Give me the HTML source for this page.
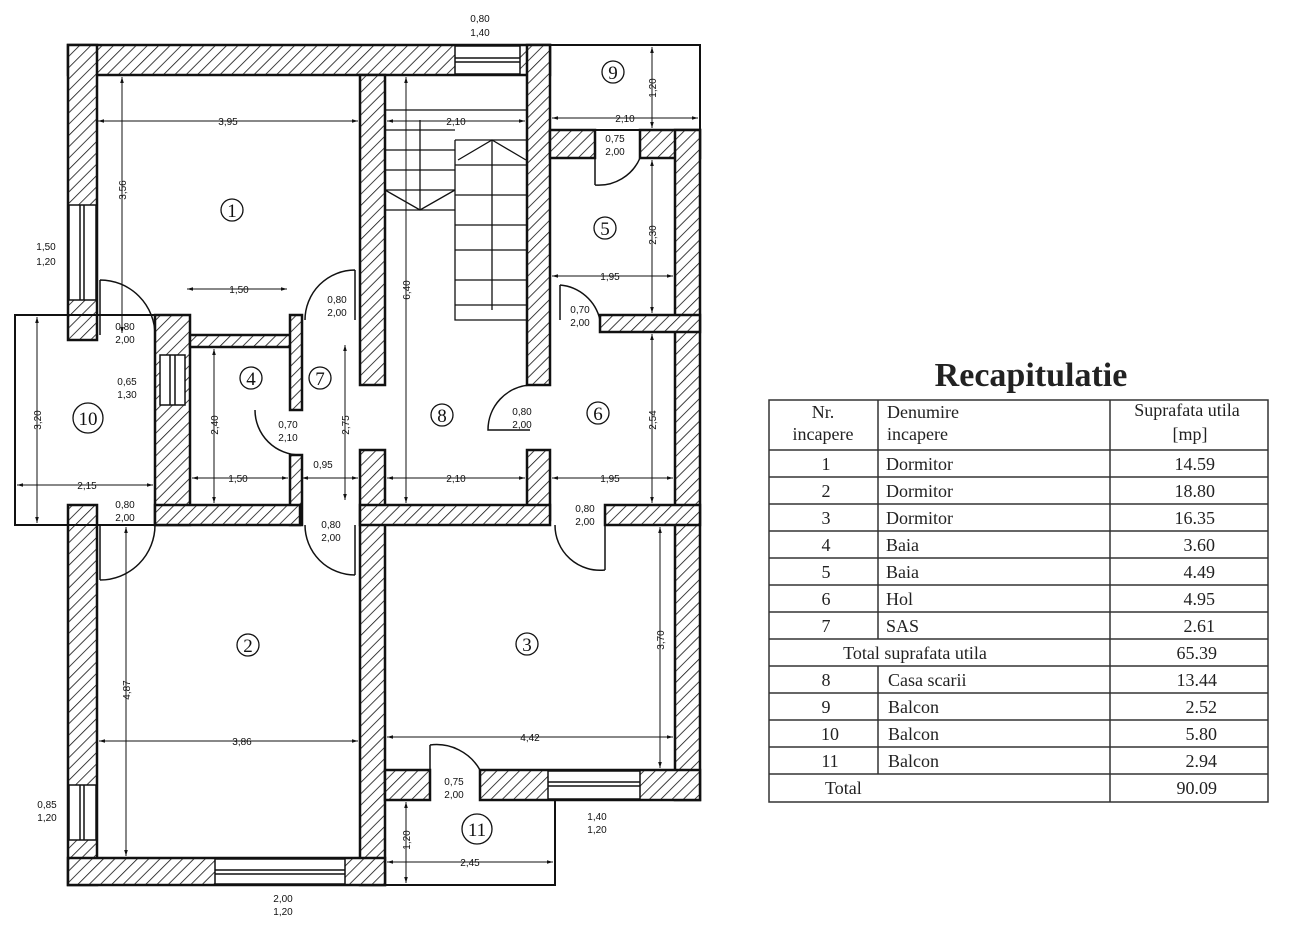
<!DOCTYPE html>
<html><head><meta charset="utf-8"><style>
html,body{margin:0;padding:0;background:#fff;}
svg{display:block;}
.d{font-family:"Liberation Sans",sans-serif;font-size:10px;fill:#111;}
.n{font-family:"Liberation Serif",serif;font-size:19px;fill:#111;text-anchor:middle;}
.t{font-family:"Liberation Serif",serif;font-size:18px;fill:#222;}
</style></head><body>
<svg width="1303" height="945" viewBox="0 0 1303 945" xmlns="http://www.w3.org/2000/svg">
<defs>
<pattern id="h" patternUnits="userSpaceOnUse" width="8" height="8" patternTransform="rotate(45)">
<rect width="8" height="8" fill="#fff"/><line x1="0" y1="0" x2="0" y2="8" stroke="#111" stroke-width="1.6"/>
</pattern>
<marker id="a" viewBox="0 0 10 10" refX="10" refY="5" markerWidth="6" markerHeight="6" orient="auto-start-reverse"><path d="M0,2 L10,5 L0,8z" fill="#111"/></marker>
</defs>
<g stroke="#111" stroke-width="2.5" fill="url(#h)">
<!-- top wall -->
<rect x="68" y="45" width="482" height="30"/>
<rect x="527" y="45" width="23" height="340"/>
<!-- left upper -->
<rect x="68" y="45" width="29" height="295"/>
<!-- 1/8 wall -->
<rect x="360" y="75" width="25" height="310"/>
<rect x="360" y="450" width="25" height="435"/>
<rect x="527" y="450" width="23" height="70"/>
<!-- room5 top -->
<rect x="550" y="130" width="45" height="28"/>
<rect x="640" y="130" width="60" height="28"/>
<rect x="675" y="130" width="25" height="670"/>
<rect x="600" y="315" width="100" height="17"/>
<!-- 10 right wall -->
<rect x="155" y="315" width="35" height="210"/>
<rect x="190" y="335" width="110" height="12"/>
<rect x="290" y="315" width="12" height="95"/>
<rect x="290" y="455" width="12" height="70"/>
<!-- horizontal middle -->
<rect x="155" y="505" width="145" height="20"/>
<rect x="360" y="505" width="190" height="20"/>
<rect x="605" y="505" width="95" height="20"/>
<!-- left lower -->
<rect x="68" y="505" width="29" height="380"/>
<!-- bottom -->
<rect x="68" y="858" width="317" height="27"/>
<!-- room3 bottom -->
<rect x="385" y="770" width="45" height="30"/>
<rect x="480" y="770" width="220" height="30"/>
</g>
<!-- windows -->
<g fill="#fff" stroke="#111" stroke-width="1.5">
<rect x="455" y="46" width="65" height="28"/><line x1="455" y1="58" x2="520" y2="58"/><line x1="455" y1="62" x2="520" y2="62"/>
<rect x="69" y="205" width="27" height="95"/><line x1="80" y1="205" x2="80" y2="300"/><line x1="84" y1="205" x2="84" y2="300"/>
<rect x="69" y="785" width="27" height="55"/><line x1="80" y1="785" x2="80" y2="840"/><line x1="84" y1="785" x2="84" y2="840"/>
<rect x="215" y="859" width="130" height="25"/><line x1="215" y1="870" x2="345" y2="870"/><line x1="215" y1="874" x2="345" y2="874"/>
<rect x="548" y="771" width="92" height="28"/><line x1="548" y1="782" x2="640" y2="782"/><line x1="548" y1="786" x2="640" y2="786"/>
<rect x="160" y="355" width="25" height="50"/><line x1="170" y1="355" x2="170" y2="405"/><line x1="175" y1="355" x2="175" y2="405"/>
</g>
<!-- balconies -->
<g fill="none" stroke="#111" stroke-width="2">
<rect x="15" y="315" width="140" height="210"/>
<path d="M550 45 H700 V130 H550"/>
<path d="M385 800 V885 H555 V800"/>
</g>
<!-- stairs -->
<g fill="none" stroke="#111" stroke-width="1.3">
<line x1="385" y1="110" x2="527" y2="110"/>
<path d="M455 140 V320 H527"/><line x1="455" y1="140" x2="527" y2="140"/>
<line x1="385" y1="130" x2="455" y2="130"/><line x1="385" y1="150" x2="455" y2="150"/><line x1="385" y1="170" x2="455" y2="170"/><line x1="385" y1="190" x2="455" y2="190"/><line x1="385" y1="210" x2="455" y2="210"/>
<line x1="455" y1="165" x2="527" y2="165"/><line x1="455" y1="195" x2="527" y2="195"/><line x1="455" y1="225" x2="527" y2="225"/><line x1="455" y1="250" x2="527" y2="250"/><line x1="455" y1="280" x2="527" y2="280"/><line x1="455" y1="305" x2="527" y2="305"/>
<line x1="492" y1="140" x2="492" y2="310"/>
<path d="M458 160 L492 140 L526 160"/><path d="M385 190 L420 210 L455 190"/>
<line x1="420" y1="120" x2="420" y2="210"/>
</g>
<!-- doors -->
<g fill="none" stroke="#111" stroke-width="1.5">
<path d="M100 280 A55 55 0 0 1 155 335 M100 280 V335"/>
<path d="M100 580 A55 55 0 0 0 155 525 M100 525 V580"/>
<path d="M355 270 A50 50 0 0 0 305 320 M355 270 V320"/>
<path d="M355 575 A50 50 0 0 1 305 525 M355 525 V575"/>
<path d="M255 410 A45 45 0 0 0 300 455"/>
<path d="M530 385 A45 45 0 0 0 488 430 H530"/>
<path d="M560 285 A45 45 0 0 1 600 320 M560 285 V320"/>
<path d="M605 570 A45 45 0 0 1 555 525 M605 525 V570"/>
<path d="M595 185 A45 45 0 0 0 640 158 M595 158 V185"/>
<path d="M430 745 A50 50 0 0 1 480 770 M430 745 V770"/>
</g>
<!-- dimension lines -->
<g stroke="#111" stroke-width="1" marker-start="url(#a)" marker-end="url(#a)" fill="none">
<line x1="98" y1="121" x2="358" y2="121"/>
<line x1="122" y1="77" x2="122" y2="333"/>
<line x1="187" y1="289" x2="287" y2="289"/>
<line x1="387" y1="121" x2="525" y2="121"/>
<line x1="406" y1="77" x2="406" y2="503"/>
<line x1="552" y1="118" x2="698" y2="118"/>
<line x1="652" y1="47" x2="652" y2="128"/>
<line x1="552" y1="276" x2="673" y2="276"/>
<line x1="652" y1="160" x2="652" y2="313"/>
<line x1="652" y1="334" x2="652" y2="503"/>
<line x1="552" y1="478" x2="673" y2="478"/>
<line x1="387" y1="478" x2="525" y2="478"/>
<line x1="302" y1="478" x2="358" y2="478"/>
<line x1="192" y1="478" x2="288" y2="478"/>
<line x1="17" y1="485" x2="153" y2="485"/>
<line x1="37" y1="317" x2="37" y2="523"/>
<line x1="214" y1="349" x2="214" y2="503"/>
<line x1="345" y1="345" x2="345" y2="500"/>
<line x1="99" y1="741" x2="358" y2="741"/>
<line x1="126" y1="527" x2="126" y2="856"/>
<line x1="387" y1="737" x2="673" y2="737"/>
<line x1="660" y1="527" x2="660" y2="768"/>
<line x1="387" y1="862" x2="553" y2="862"/>
<line x1="406" y1="802" x2="406" y2="883"/>
</g>
<!-- dimension text -->
<g class="d" text-anchor="middle">
<text x="228" y="125" fill="#111">3,95</text>
<text x="239" y="293">1,50</text>
<text x="456" y="125">2,10</text>
<text x="625" y="122">2,10</text>
<text x="610" y="280">1,95</text>
<text x="610" y="482">1,95</text>
<text x="456" y="482">2,10</text>
<text x="323" y="468">0,95</text>
<text x="238" y="482">1,50</text>
<text x="87" y="489">2,15</text>
<text x="242" y="745">3,86</text>
<text x="530" y="741">4,42</text>
<text x="470" y="866">2,45</text>
<text transform="translate(126,190) rotate(-90)">3,56</text>
<text transform="translate(410,290) rotate(-90)">6,40</text>
<text transform="translate(656,88) rotate(-90)">1,20</text>
<text transform="translate(656,235) rotate(-90)">2,30</text>
<text transform="translate(656,420) rotate(-90)">2,54</text>
<text transform="translate(349,425) rotate(-90)">2,75</text>
<text transform="translate(218,425) rotate(-90)">2,40</text>
<text transform="translate(41,420) rotate(-90)">3,20</text>
<text transform="translate(130,690) rotate(-90)">4,87</text>
<text transform="translate(664,640) rotate(-90)">3,70</text>
<text transform="translate(410,840) rotate(-90)">1,20</text>
<text x="480" y="22">0,80</text><text x="480" y="36">1,40</text>
<text x="46" y="250">1,50</text><text x="46" y="265">1,20</text>
<text x="125" y="330">0,80</text><text x="125" y="343">2,00</text>
<text x="127" y="385">0,65</text><text x="127" y="398">1,30</text>
<text x="337" y="303">0,80</text><text x="337" y="316">2,00</text>
<text x="580" y="313">0,70</text><text x="580" y="326">2,00</text>
<text x="615" y="142">0,75</text><text x="615" y="155">2,00</text>
<text x="522" y="415">0,80</text><text x="522" y="428">2,00</text>
<text x="288" y="428">0,70</text><text x="288" y="441">2,10</text>
<text x="125" y="508">0,80</text><text x="125" y="521">2,00</text>
<text x="331" y="528">0,80</text><text x="331" y="541">2,00</text>
<text x="585" y="512">0,80</text><text x="585" y="525">2,00</text>
<text x="454" y="785">0,75</text><text x="454" y="798">2,00</text>
<text x="47" y="808">0,85</text><text x="47" y="821">1,20</text>
<text x="597" y="820">1,40</text><text x="597" y="833">1,20</text>
<text x="283" y="902">2,00</text><text x="283" y="915">1,20</text>
</g>
<!-- room numbers -->
<g fill="none" stroke="#111" stroke-width="1.3">
<circle cx="232" cy="210" r="11"/><circle cx="248" cy="645" r="11"/><circle cx="527" cy="644" r="11"/>
<circle cx="251" cy="378" r="11"/><circle cx="605" cy="228" r="11"/><circle cx="320" cy="378" r="11"/>
<circle cx="442" cy="415" r="11"/><circle cx="613" cy="72" r="11"/><circle cx="598" cy="413" r="11"/>
<circle cx="88" cy="418" r="15"/><circle cx="477" cy="829" r="15"/>
</g>
<g class="n">
<text x="232" y="217">1</text><text x="248" y="652">2</text><text x="527" y="651">3</text>
<text x="251" y="385">4</text><text x="605" y="235">5</text><text x="320" y="385">7</text>
<text x="442" y="422">8</text><text x="613" y="79">9</text><text x="598" y="420">6</text>
<text x="88" y="425">10</text><text x="477" y="836">11</text>
</g>
<!-- table -->
<text x="1031" y="386" text-anchor="middle" style="font-family:'Liberation Serif',serif;font-size:34px;font-weight:bold;fill:#222">Recapitulatie</text>
<g stroke="#333" stroke-width="1.5" fill="none">
<rect x="769" y="400" width="499" height="402"/>
<line x1="878" y1="400" x2="878" y2="639"/><line x1="878" y1="666" x2="878" y2="774"/>
<line x1="1110" y1="400" x2="1110" y2="802"/>
<line x1="769" y1="450" x2="1268" y2="450"/><line x1="769" y1="477" x2="1268" y2="477"/>
<line x1="769" y1="504" x2="1268" y2="504"/><line x1="769" y1="531" x2="1268" y2="531"/>
<line x1="769" y1="558" x2="1268" y2="558"/><line x1="769" y1="585" x2="1268" y2="585"/>
<line x1="769" y1="612" x2="1268" y2="612"/><line x1="769" y1="639" x2="1268" y2="639"/>
<line x1="769" y1="666" x2="1268" y2="666"/><line x1="769" y1="693" x2="1268" y2="693"/>
<line x1="769" y1="720" x2="1268" y2="720"/><line x1="769" y1="747" x2="1268" y2="747"/>
<line x1="769" y1="774" x2="1268" y2="774"/>
</g>
<g class="t">
<text x="823" y="418" text-anchor="middle">Nr.</text><text x="823" y="440" text-anchor="middle">incapere</text>
<text x="887" y="418">Denumire</text><text x="887" y="440">incapere</text>
<text x="1187" y="416" text-anchor="middle">Suprafata utila</text><text x="1190" y="440" text-anchor="middle">[mp]</text>
<g text-anchor="middle">
<text x="826" y="470">1</text><text x="826" y="497">2</text><text x="826" y="524">3</text><text x="826" y="551">4</text>
<text x="826" y="578">5</text><text x="826" y="605">6</text><text x="826" y="632">7</text>
<text x="915" y="659">Total suprafata utila</text>
<text x="826" y="686">8</text><text x="826" y="713">9</text><text x="830" y="740">10</text><text x="830" y="767">11</text>
</g>
<text x="886" y="470">Dormitor</text><text x="886" y="497">Dormitor</text><text x="886" y="524">Dormitor</text>
<text x="886" y="551">Baia</text><text x="886" y="578">Baia</text><text x="886" y="605">Hol</text><text x="886" y="632">SAS</text>
<text x="888" y="686">Casa scarii</text><text x="888" y="713">Balcon</text><text x="888" y="740">Balcon</text><text x="888" y="767">Balcon</text>
<text x="825" y="794">Total</text>
<g text-anchor="end">
<text x="1215" y="470">14.59</text><text x="1215" y="497">18.80</text><text x="1215" y="524">16.35</text><text x="1215" y="551">3.60</text>
<text x="1215" y="578">4.49</text><text x="1215" y="605">4.95</text><text x="1215" y="632">2.61</text><text x="1217" y="659">65.39</text>
<text x="1217" y="686">13.44</text><text x="1217" y="713">2.52</text><text x="1217" y="740">5.80</text><text x="1217" y="767">2.94</text><text x="1217" y="794">90.09</text>
</g>
</g>
</svg>
</body></html>
